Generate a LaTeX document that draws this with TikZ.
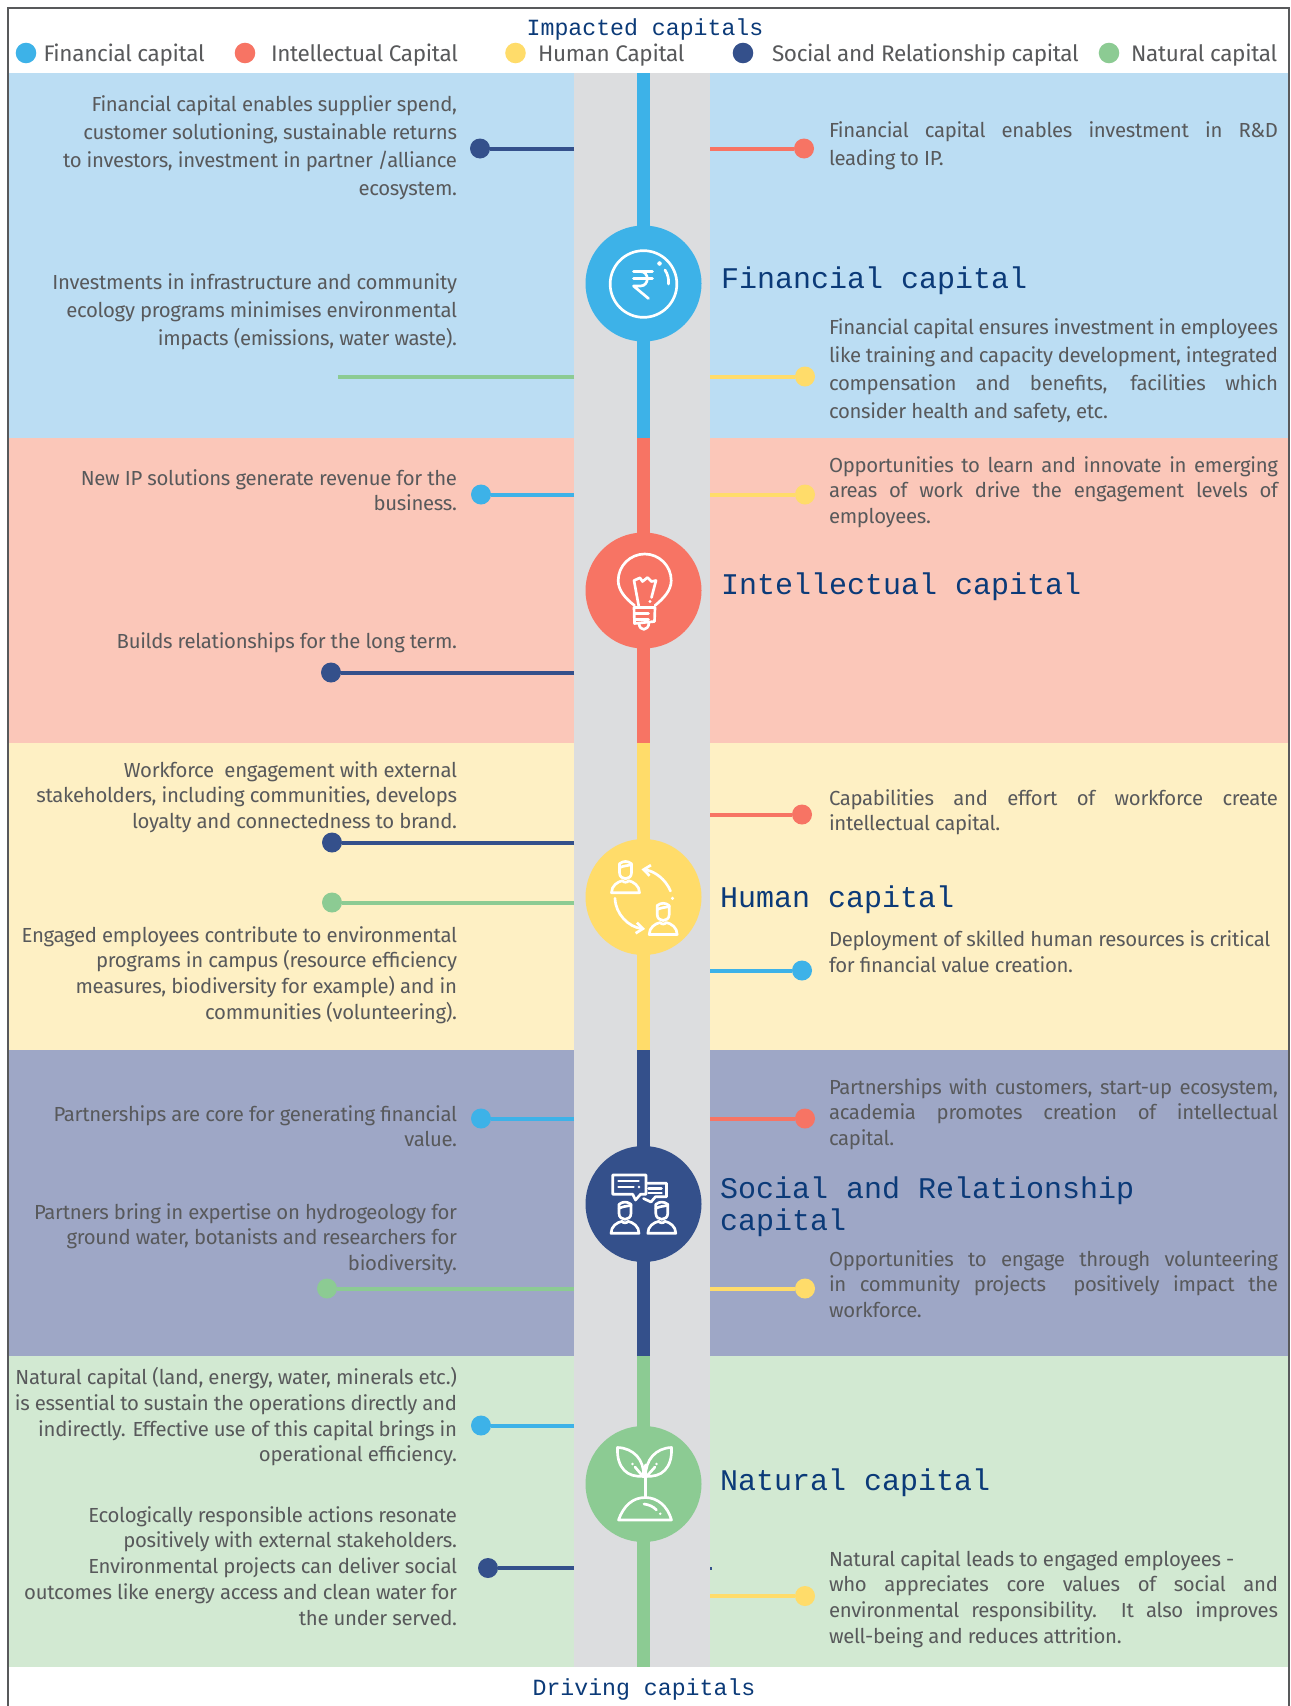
\documentclass[tikz,border=0pt]{standalone}
\usepackage{fontspec}
\setmainfont{Fira Sans}[Scale=1.0,LetterSpace=-1.5]
\setmonofont{Liberation Mono}
\usetikzlibrary{arrows.meta}
\definecolor{ink}{HTML}{58595B}
\definecolor{headc}{HTML}{0B3A78}
\definecolor{grayc}{HTML}{DCDDDF}
\definecolor{cfin}{HTML}{3DB2E8}
\definecolor{cint}{HTML}{F77464}
\definecolor{chum}{HTML}{FFDC6A}
\definecolor{csoc}{HTML}{34508B}
\definecolor{cnat}{HTML}{8CCB93}
\definecolor{bfin}{HTML}{BBDDF3}
\definecolor{bint}{HTML}{FBC7B9}
\definecolor{bhum}{HTML}{FEF0C4}
\definecolor{bsoc}{HTML}{9EA7C6}
\definecolor{bnat}{HTML}{D2E9D2}
\tikzset{
  x=0.75pt,y=-0.75pt,
  txt/.style={inner sep=0pt,outer sep=0pt,text=ink},
  dotn/.style={circle,inner sep=0pt,outer sep=0pt,minimum size=15pt},
  legdot/.style={circle,inner sep=0pt,outer sep=0pt,minimum size=15.4pt},
  conn/.style={line width=3pt},
  hub/.style={circle,inner sep=0pt,outer sep=0pt,minimum size=87pt},
  icon/.style={draw=white,line width=2pt,line cap=round,line join=round},
  heading/.style={inner sep=0pt,outer sep=0pt,text=headc,anchor=base west,font=\ttfamily\fontsize{22.5pt}{24pt}\selectfont,align=left},
  caphead/.style={inner sep=0pt,outer sep=0pt,text=headc,anchor=base,font=\ttfamily\fontsize{17.4pt}{20pt}\selectfont},
  legend/.style={inner sep=0pt,outer sep=0pt,text=ink,anchor=base west,font=\fontsize{16.9pt}{18pt}\selectfont}
}
\newcommand{\jl}[1]{\hbox to 336.75pt{\spaceskip=0.26em plus 1em minus 0.12em #1}}
\newcommand{\lpara}[4]{\node[txt,anchor=base east] (#1) at (457,#2){\parbox[t]{340pt}{\fontsize{15.25pt}{#3pt}\selectfont\raggedleft #4}};}
\newcommand{\rpara}[4]{\node[txt,anchor=base west] (#1) at (829,#2){\parbox[t]{336.75pt}{\fontsize{15.25pt}{#3pt}\selectfont\parindent=0pt #4}};}
\newcommand{\person}[2]{%
  \draw[icon] (#1-14,#2) -- (#1+14,#2) .. controls (#1+14,#2-7) and (#1+8,#2-11) .. (#1+3,#2-12) .. controls (#1+2,#2-10) and (#1-2,#2-10) .. (#1-3,#2-12) .. controls (#1-8,#2-11) and (#1-14,#2-7) .. (#1-14,#2) -- cycle;
  \draw[icon] (#1-6,#2-29) .. controls (#1-2,#2-32) and (#1+2,#2-32) .. (#1+6,#2-29) -- (#1+6,#2-20) .. controls (#1+6,#2-12) and (#1-6,#2-12) .. (#1-6,#2-20) -- cycle;
  \draw[icon] (#1-6,#2-25) .. controls (#1-2,#2-27) and (#1+2,#2-27) .. (#1+6,#2-28);
}
\begin{document}
\begin{tikzpicture}
\useasboundingbox (0,0) rectangle (1290,1706);
% bands
\fill[white] (0,0) rectangle (1290,1706);
\fill[bfin] (8,73) rectangle (1289,438);
\fill[bint] (8,438) rectangle (1289,743);
\fill[bhum] (8,743) rectangle (1289,1050);
\fill[bsoc] (8,1050) rectangle (1289,1356);
\fill[bnat] (8,1356) rectangle (1289,1667);
\draw[ink,line width=1.9pt] (8,1706) -- (8,8) -- (1289,8) -- (1289,1706);
\fill[grayc] (574,73) rectangle (710,1667);
\fill[cfin] (637,73) rectangle (650,438);
\fill[cint] (637,438) rectangle (650,743);
\fill[chum] (637,743) rectangle (650,1050);
\fill[csoc] (637,1050) rectangle (650,1356);
\fill[cnat] (637,1356) rectangle (650,1667);
% tick
\fill[csoc] (710,1566.5) rectangle (711.5,1569.5);
% titles
\node[caphead] (topt) at (645,36) {Impacted capitals};
\node[caphead] (bott) at (644,1695.5) {Driving capitals};
% legend
\node[legdot,fill=cfin] (lg1) at (26,53) {};
\node[legdot,fill=cint] (lg2) at (245,53) {};
\node[legdot,fill=chum] (lg3) at (515.5,53) {};
\node[legdot,fill=csoc] (lg4) at (743,53) {};
\node[legdot,fill=cnat] (lg5) at (1109,53) {};
\node[legend] (lt1) at (43.5,61.5) {Financial capital};
\node[legend] (lt2) at (271,61.5) {Intellectual Capital};
\node[legend] (lt3) at (538,61.5) {Human Capital};
\node[legend] (lt4) at (772,61.5) {Social and Relationship capital};
\node[legend] (lt5) at (1131,61.5) {Natural capital};
% hubs
\node[hub,fill=cfin] (h1) at (643.5,283.5) {};
\node[hub,fill=cint] (h2) at (643.5,590.5) {};
\node[hub,fill=chum] (h3) at (643.5,897) {};
\node[hub,fill=csoc] (h4) at (643.5,1204) {};
\node[hub,fill=cnat] (h5) at (643.5,1484) {};
% headings
\node[heading] (n1) at (721,288) {Financial capital};
\node[heading] (n2) at (721,594) {Intellectual capital};
\node[heading] (n3) at (720,907) {Human capital};
\node[heading] (n4) at (720,1230) {Social and Relationship\\capital};
\node[heading] (n5) at (720,1490) {Natural capital};
% left connectors
\foreach \nm/\col/\dx/\yy in {a/csoc/480/148.5,c/cfin/481/494.5,d/csoc/331/672.5,e/csoc/332/842.5,f/cnat/332/902.5,g/cfin/481/1118.5,h/cnat/327/1288.5,i/cfin/481/1425.5,j/csoc/488/1568}{
  \coordinate (s\nm) at (574,\yy);
  \node[dotn,fill=\col] (t\nm) at (\dx,\yy) {};
  \draw[conn,\col] (s\nm) -- (t\nm);
}
\coordinate (sb) at (574,376.5);
\coordinate (tb) at (338,376.5);
\draw[conn,cnat] (sb) -- (tb);
% right connectors
\foreach \nm/\col/\dx/\yy in {k/cint/804/148.5,l/chum/805/376.5,m/chum/805/494.5,n/cint/802/814.5,o/cfin/802/970.5,p/cint/805/1118.5,q/chum/805/1288.5,r/chum/805/1596}{
  \coordinate (s\nm) at (710,\yy);
  \node[dotn,fill=\col] (t\nm) at (\dx,\yy) {};
  \draw[conn,\col] (s\nm) -- (t\nm);
}
% left text
\lpara{p1}{111}{21.2}{Financial capital enables supplier spend,\\customer solutioning, sustainable returns\\to investors, investment in partner /alliance\\ecosystem.}
\lpara{p2}{289}{21.2}{Investments in infrastructure and community\\ecology programs minimises environmental\\impacts (emissions, water waste).}
\lpara{p3}{485}{19.35}{New IP solutions generate revenue for the\\business.}
\lpara{p4}{648}{19.35}{Builds relationships for the long term.}
\lpara{p5}{777}{19.35}{Workforce\ \ engagement with external\\stakeholders, including communities, develops\\loyalty and connectedness to brand.}
\lpara{p6}{942}{19.35}{Engaged employees contribute to environmental\\programs in campus (resource efficiency\\measures, biodiversity for example) and in\\communities (volunteering).}
\lpara{p7}{1121}{19.35}{Partnerships are core for generating financial\\value.}
\lpara{p8}{1219}{19.35}{Partners bring in expertise on hydrogeology for\\ground water, botanists and researchers for\\biodiversity.}
\lpara{p9}{1384.5}{19.35}{Natural capital (land, energy, water, minerals etc.)\\is essential to sustain the operations directly and\\indirectly. Effective use of this capital brings in\\operational efficiency.}
\lpara{p10}{1522}{19.35}{Ecologically responsible actions resonate\\positively with external stakeholders.\\Environmental projects can deliver social\\outcomes like energy access and clean water for\\the under served.}
% right text
\rpara{r1}{137}{21.2}{\jl{Financial capital enables investment in R\&D}leading to IP.}
\rpara{r2}{334}{21.2}{\jl{Financial capital ensures investment in employees}\jl{like training and capacity development, integrated}\jl{compensation and benefits, facilities which}consider health and safety, etc.}
\rpara{r3}{472}{19.35}{\jl{Opportunities to learn and innovate in emerging}\jl{areas of work drive the engagement levels of}employees.}
\rpara{r4}{805}{19.35}{\jl{Capabilities and effort of workforce create}intellectual capital.}
\rpara{r5}{946.5}{19.35}{Deployment of skilled human resources is critical\\for financial value creation.}
\rpara{r6}{1094}{19.35}{\jl{Partnerships with customers, start-up ecosystem,}\jl{academia promotes creation of intellectual}capital.}
\rpara{r7}{1266}{19.35}{\jl{Opportunities to engage through volunteering}\jl{in community projects\ \ positively impact the}workforce.}
\rpara{r8}{1566}{19.35}{Natural capital leads to engaged employees -\par\jl{who appreciates core values of social and}\jl{environmental responsibility.\ \ It also improves}well-being and reduces attrition.}
% icon 1: rupee
\begin{scope}[shift={(h1.center)}]
\draw[icon] (0,0.5) circle[radius=25pt];
\draw[icon] (-10,-12) -- (9,-12);
\draw[icon] (-10,-5) -- (9,-5);
\draw[icon] (-3,-12) .. controls (6,-12) and (6,2.5) .. (-3,2.5) -- (-10,2.5) -- (5,15);
\draw[icon] (21.5,-13.5) .. controls (24.5,-9) and (25.5,-4) .. (25,0.5);
\fill[white] (16,-20) circle[radius=1.7pt];
\end{scope}
% icon 2: bulb
\begin{scope}[shift={(h2.center)}]
\draw[icon] (-9,15) .. controls (-18,8) and (-25.3,0) .. (-25.3,-10) .. controls (-25.3,-24.6) and (-13.4,-36.5) .. (1.2,-36.5) .. controls (15.8,-36.5) and (27.7,-24.6) .. (27.7,-10) .. controls (27.7,0) and (20,8) .. (11.5,15);
\draw[icon] (-4.5,17) -- (-9.5,-10) -- (-3.5,-12.7) -- (-1,-9) -- (4,-13) -- (8,-9) -- (12.5,-10) -- (8,7);
\fill[white] (6.5,11) circle[radius=1.3pt];
\draw[icon] (-9.5,17) -- (11.5,17) -- (11,31) -- (-9,33) -- cycle;
\draw[icon] (-9,23) -- (5,23);
\draw[icon] (-9,29) -- (5,29);
\draw[icon] (-4.5,33) .. controls (-4,41) and (5,41) .. (5.5,32);
\end{scope}
% icon 3: human
\begin{scope}[shift={(h3.center)}]
\person{-18}{-4.3}
\person{19.7}{37.5}
\draw[icon,-{Straight Barb[length=5pt,width=8pt]}] (27,-6) .. controls (22,-18) and (11,-26) .. (-2,-27.7);
\draw[icon,-{Straight Barb[length=5pt,width=8pt]}] (-28.5,1.3) .. controls (-28,17) and (-15,30) .. (1.5,32);
\fill[white] (29,1.3) circle[radius=1.3pt];
\end{scope}
% icon 4: social
\begin{scope}[shift={(h4.center)}]
\person{-18.5}{29.3}
\person{18.3}{29.3}
\draw[icon] (-30.8,-29) -- (2.5,-29) -- (2.5,-9.7) -- (-3,-9.7) -- (-8,-4) -- (-10.7,-9.7) -- (-30.8,-9.7) -- cycle;
\draw[icon] (4,-20.7) -- (23,-20.7) -- (23,-7.3) -- (12,-7.3) -- (7.5,-2) -- (0,-5.5);
\draw[icon] (-25,-23) -- (-5,-23);
\draw[icon] (-25,-17) -- (-10,-17);
\fill[white] (-4.5,-17) circle[radius=1pt];
\draw[icon] (5,-15.5) -- (18,-15.5);
\draw[icon] (5,-11) -- (18,-11);
\end{scope}
% icon 5: plant
\begin{scope}[shift={(h5.center)}]
\draw[icon] (-26,-36.5) .. controls (-10,-36) and (1,-24) .. (0,-8) .. controls (-16,-6) and (-27,-16) .. (-26,-36.5) -- cycle;
\draw[icon] (28,-36.5) .. controls (12,-36) and (2,-24) .. (2,-8) .. controls (18,-6) and (29,-16) .. (28,-36.5) -- cycle;
\draw[icon] (1.7,-19) -- (1.7,13);
\draw[icon] (-8.5,-17) -- (0,-7);
\draw[icon] (11.5,-17) -- (2.5,-7);
\fill[white] (-11,-20) circle[radius=1pt];
\fill[white] (13,-20) circle[radius=1pt];
\draw[icon] (-25,36) -- (28,36) .. controls (24,22) and (14,13.5) .. (1.7,13.5) .. controls (-11,13.5) and (-20,22) .. (-25,36) -- cycle;
\draw[icon] (0.5,20) .. controls (5,20.5) and (10,22.5) .. (13,26);
\fill[white] (16.7,29.7) circle[radius=1pt];
\end{scope}
\end{tikzpicture}
\end{document}
